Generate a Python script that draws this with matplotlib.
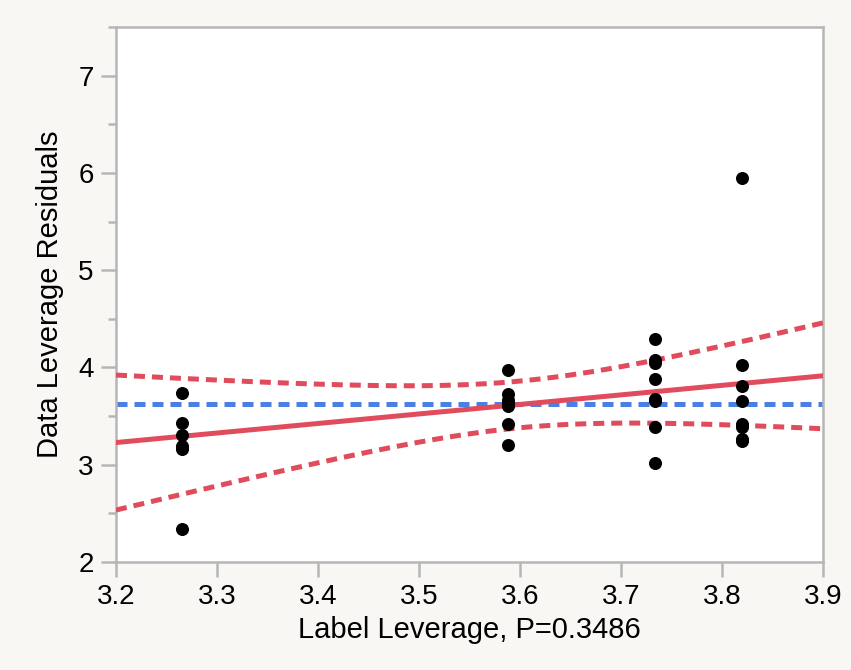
import numpy as np
import matplotlib.pyplot as plt
from matplotlib.ticker import MultipleLocator, FormatStrFormatter

plt.rcParams['font.family'] = ['Liberation Sans', 'DejaVu Sans']

# leverage points
label_x = [3.265] * 6 + [3.588] * 7 + [3.734] * 8 + [3.820] * 8
data_y = [3.74, 3.43, 3.31, 3.19, 3.16, 2.34,
          3.97, 3.73, 3.67, 3.63, 3.60, 3.42, 3.20,
          4.29, 4.08, 4.05, 3.88, 3.68, 3.65, 3.39, 3.02,
          5.95, 4.03, 3.81, 3.66, 3.42, 3.39, 3.26, 3.24]

# fit line and confidence curve
mean_y = 3.62
fit_slope = 0.98
fit_center_x = 3.6
band_min_half = 0.24
band_curv = 2.65

x_grid = np.linspace(3.2, 3.9, 200)
fit = mean_y + fit_slope * (x_grid - fit_center_x)
half = np.sqrt(band_min_half ** 2 + band_curv * (x_grid - fit_center_x) ** 2)

red = '#e04c5c'
blue = '#4a7fe3'
grey = '#b6b6b6'
dash = (0, (2.2, 1.4))

fig = plt.figure(figsize=(8.51, 6.70), dpi=100, facecolor='#f8f7f3')
ax = fig.add_axes([0.1363, 0.1612, 0.8307, 0.7985])

ax.axhline(mean_y, color=blue, lw=3.6, ls=dash, zorder=2)
ax.plot(x_grid, fit, color=red, lw=3.6, zorder=3)
ax.plot(x_grid, fit + half, color=red, lw=3.6, ls=dash, zorder=3)
ax.plot(x_grid, fit - half, color=red, lw=3.6, ls=dash, zorder=3)
ax.scatter(label_x, data_y, s=70, color='black', zorder=4)

ax.set_xlim(3.2, 3.9)
ax.set_ylim(2, 7.5)
ax.xaxis.set_major_locator(MultipleLocator(0.1))
ax.xaxis.set_major_formatter(FormatStrFormatter('%.1f'))
ax.yaxis.set_major_locator(MultipleLocator(1))
ax.yaxis.set_minor_locator(MultipleLocator(0.5))

for sp in ax.spines.values():
    sp.set_color(grey)
    sp.set_linewidth(1.8)
ax.tick_params(which='both', color=grey, width=1.8, labelsize=20, direction='out')
ax.tick_params(axis='x', length=11, pad=5)
ax.tick_params(axis='y', which='major', length=11, pad=5)
ax.tick_params(axis='y', which='minor', length=6)

ax.set_xlabel('Label Leverage, P=0.3486', fontsize=21, labelpad=4)
ax.set_ylabel('Data Leverage Residuals', fontsize=21, labelpad=10)

fig.savefig('out.png', dpi=100, facecolor=fig.get_facecolor())
